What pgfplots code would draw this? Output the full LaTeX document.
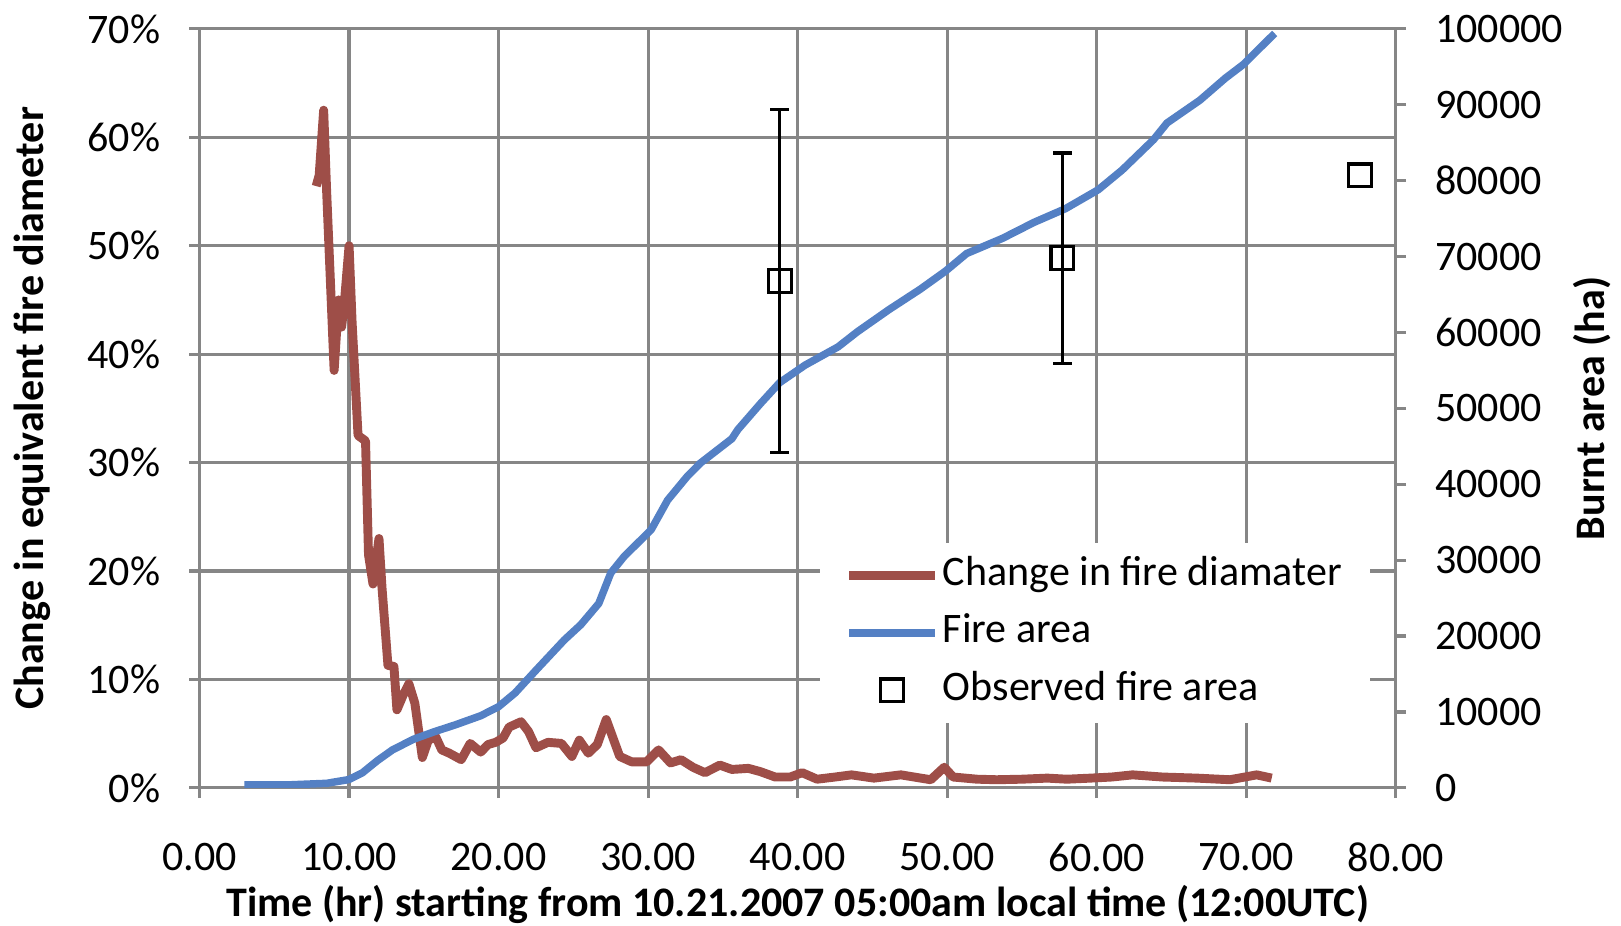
\documentclass[border=0pt]{standalone}
\usepackage{pgfplots}
\pgfplotsset{compat=1.18}
\usepackage{fontspec}
\setmainfont{Carlito}
\definecolor{gridgray}{RGB}{134,134,134}
\definecolor{firered}{RGB}{158,78,72}
\definecolor{fireblue}{RGB}{84,128,196}
\newcommand\fs{\fontsize{11.8}{14}\selectfont}

\pgfplotstableread{
t pct
7.8 55.5
8.0 56.5
8.3 62.5
8.5 55
9.0 38.5
9.3 45
9.5 42.5
9.7 45
10.0 50
10.2 43
10.6 32.5
11.1 32
11.3 21.5
11.6 18.8
12.0 23
12.2 18.5
12.6 11.3
13.0 11.2
13.2 7.2
13.6 8.5
14.0 9.6
14.4 7.8
14.9 2.8
15.3 4.4
15.8 4.7
16.2 3.5
16.7 3.2
17.5 2.6
18.1 4.1
18.8 3.3
19.3 4.0
19.8 4.2
20.3 4.6
20.7 5.6
21.5 6.1
22.0 5.2
22.5 3.7
23.3 4.2
24.2 4.1
24.9 2.9
25.4 4.4
26.0 3.2
26.6 4.0
27.2 6.3
28.1 2.9
28.9 2.4
29.9 2.4
30.7 3.5
31.5 2.3
32.2 2.6
33.0 1.9
33.8 1.4
34.8 2.1
35.6 1.7
36.7 1.8
37.5 1.5
38.5 1.0
39.5 1.0
40.3 1.4
41.3 0.8
42.5 1.0
43.6 1.2
45.1 0.9
46.9 1.2
48.9 0.75
49.8 1.9
50.4 1.0
52.0 0.8
53.3 0.75
55.0 0.8
56.7 0.9
58.0 0.8
59.6 0.9
61.0 1.0
62.4 1.2
64.4 1.0
66.7 0.9
68.9 0.75
70.7 1.2
71.7 0.9
}\diamtable

\pgfplotstableread{
t ha
3.0 400
6.0 400
8.5 600
10.0 1100
10.9 2000
11.9 3600
12.9 5000
14.3 6400
15.7 7400
17.1 8300
18.8 9500
20.0 10700
21.1 12500
22.5 15500
24.4 19500
25.5 21500
26.7 24300
27.5 28300
28.4 30500
30.2 34000
31.3 37900
32.6 41000
33.5 42800
35.6 46000
36.0 47200
37.5 50600
38.8 53400
40.5 55700
42.7 58100
44.0 60100
46.1 63000
48.2 65700
49.9 68100
51.3 70400
53.7 72400
55.8 74500
57.9 76300
60.1 78800
61.7 81400
63.8 85400
64.7 87600
66.9 90600
68.6 93500
69.8 95300
71.9 99400
}\areatable

\begin{document}
\fs
\begin{tikzpicture}[font=\fs]
\pgfplotsset{
  every axis/.append style={
    scale only axis, width=335.7pt, height=213pt,
    xmin=0, xmax=80,
    tick align=outside, major tick length=2.9pt,
    tick style={gridgray, line width=0.9pt},
    axis line style={gridgray, line width=0.9pt},
    /pgf/number format/assume math mode=true,
    tick label style={font=\fs, text=black},
  }
}
\begin{axis}[
  ymin=0, ymax=70,
  xtick={0,10,...,80}, ytick={0,10,...,70},
  xtick pos=bottom, ytick pos=left,
  grid=major, grid style={gridgray, line width=0.9pt},
  yticklabel={\pgfmathprintnumber{\tick}\%},
  yticklabel style={xshift=-4pt},
  xticklabel style={yshift=-8.5pt, /pgf/number format/.cd, fixed, fixed zerofill, precision=2},
  xlabel={Time (hr) starting from 10.21.2007 05:00am local time (12:00UTC)},
  xlabel style={at={(axis description cs:0.5,-0.154)}, anchor=center, font=\fs\bfseries},
  ylabel={Change in equivalent fire diameter},
  ylabel style={at={(axis description cs:-0.14,0.5)}, anchor=center, font=\fs\bfseries},
]
\addplot[firered, line width=2.5pt, line join=round, no marks] table[x=t, y=pct] {\diamtable};
\end{axis}
\begin{axis}[
  ymin=0, ymax=100000,
  ytick={0,10000,...,100000},
  axis x line=none, axis y line*=right,
  scaled y ticks=false,
  yticklabel style={xshift=4pt, /pgf/number format/.cd, fixed, 1000 sep={}},
  ylabel={Burnt area (ha)},
  ylabel style={at={(axis description cs:1.164,0.5)}, anchor=center, font=\fs\bfseries},
  legend style={at={(rel axis cs:0.518,0.323)}, anchor=north west, draw=none, fill=white,
    inner xsep=7pt, inner ysep=1pt, row sep=0pt, column sep=0pt, font=\fs,
    nodes={inner xsep=1pt, inner ysep=1.8pt, text height=9pt, text depth=3.5pt}},
  legend cell align=left,
  legend image code/.code={\draw[mark repeat=2, mark phase=2, #1] plot coordinates {(0pt,0pt) (12pt,0pt) (24pt,0pt)};},
]
\addlegendimage{firered, line width=2.5pt}
\addlegendentry{Change in fire diamater}
\addplot[fireblue, line width=2.1pt, line join=round, no marks] table[x=t, y=ha] {\areatable};
\addlegendentry{Fire area}
\addplot[only marks, mark=square, mark size=3.2pt, black, line width=0.9pt,
  error bars/.cd, y dir=both, y explicit, error mark=-,
  error bar style={line width=0.9pt, black},
  error mark options={mark size=2.6pt, line width=0.9pt, black, rotate=90}]
  coordinates {(38.8,66800) +- (0,22600) (57.7,69800) +- (0,13850)};
\addlegendentry{Observed fire area}
\addplot[only marks, mark=square, mark size=3.2pt, black, line width=0.9pt, forget plot]
  coordinates {(77.6,80700)};
\end{axis}
\pgfresetboundingbox
\path[use as bounding box] (-56pt,-38.6pt) rectangle (398.9pt,221.1pt);
\end{tikzpicture}
\end{document}
